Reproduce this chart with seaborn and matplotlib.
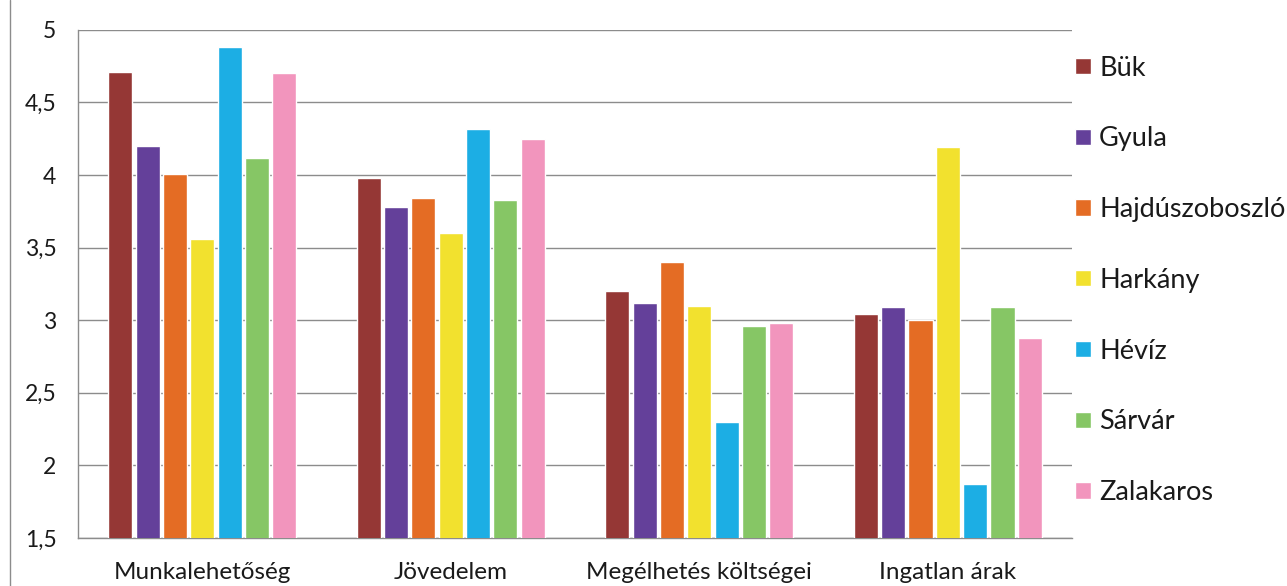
import pandas as pd
import matplotlib.pyplot as plt
import seaborn as sns
from matplotlib.lines import Line2D

# Data
categories = ['Munkalehetőség', 'Jövedelem', 'Megélhetés költségei', 'Ingatlan árak']
towns = ['Bük', 'Gyula', 'Hajdúszoboszló', 'Harkány', 'Hévíz', 'Sárvár', 'Zalakaros']

buk = [4.71, 3.98, 3.20, 3.04]
gyula = [4.20, 3.78, 3.12, 3.09]
hajdu = [4.01, 3.84, 3.40, 3.00]
harkany = [3.56, 3.60, 3.10, 4.19]
heviz = [4.88, 4.32, 2.30, 1.87]
sarvar = [4.12, 3.83, 2.96, 3.09]
zalakaros = [4.70, 4.25, 2.98, 2.88]

colors = ['#953735', '#64409A', '#E46C24', '#F2E12E', '#1CAEE4', '#86C665', '#F295BD']

series = [buk, gyula, hajdu, harkany, heviz, sarvar, zalakaros]
rows = []
for town, vals in zip(towns, series):
    for cat, v in zip(categories, vals):
        rows.append({'category': cat, 'town': town, 'value': v})
df = pd.DataFrame(rows)

sns.set_style('white')
plt.rcParams['font.family'] = ['Lato', 'DejaVu Sans']

fig = plt.figure(figsize=(12.87, 5.86), dpi=100)
ax = fig.add_axes([0.0606, 0.082, 0.7724, 0.867])

sns.barplot(data=df, x='category', y='value', hue='town', order=categories,
            hue_order=towns, palette=colors, width=0.77, gap=0.12,
            saturation=1, ax=ax, errorbar=None, zorder=3)

ax.set_ylim(1.5, 5)
ax.set_xlim(-0.5, 3.5)
ax.set_yticks([1.5, 2, 2.5, 3, 3.5, 4, 4.5, 5])
ax.set_yticklabels(['1,5', '2', '2,5', '3', '3,5', '4', '4,5', '5'])
ax.yaxis.grid(True, color='#8c8c8c', linewidth=1, zorder=0)
ax.set_axisbelow(True)
ax.set_xlabel('')
ax.set_ylabel('')

ax.tick_params(axis='y', length=7, color='#8c8c8c', labelsize=16.5, pad=8.5,
               labelcolor='#1a1a1a')
ax.tick_params(axis='x', which='major', length=0, labelsize=17.5, pad=17,
               labelcolor='#1a1a1a')
ax.set_xticks([-0.5, 0.5, 1.5, 2.5, 3.5], minor=True)
ax.tick_params(axis='x', which='minor', length=6, color='#8c8c8c', direction='out')

for side in ['top', 'right']:
    ax.spines[side].set_visible(False)
for side in ['left', 'bottom']:
    ax.spines[side].set_color('#8c8c8c')
    ax.spines[side].set_linewidth(1)

# chart-area border on the far left
fig.add_artist(Line2D([0.0078, 0.0078], [0.0, 1.0], transform=fig.transFigure,
                      color='#8c8c8c', linewidth=1))

leg = ax.legend(loc='center left', bbox_to_anchor=(1.0, 0.507), frameon=False,
                fontsize=19.5, handlelength=0.6, handleheight=0.55,
                handletextpad=0.3, labelspacing=1.69, borderaxespad=0.0,
                borderpad=0.1)
for t in leg.get_texts():
    t.set_color('#1a1a1a')

fig.savefig('out.png', dpi=100)
